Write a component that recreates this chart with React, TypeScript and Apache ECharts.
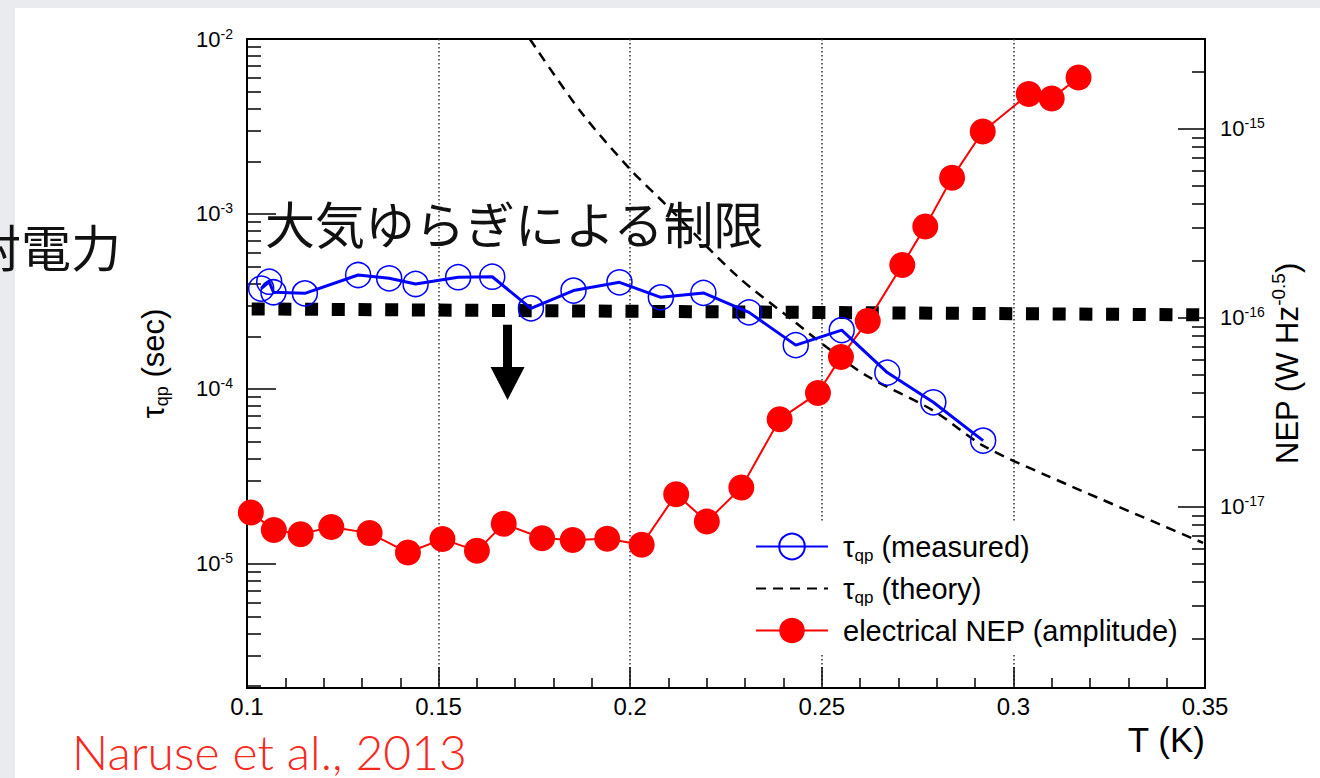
import React, { useEffect, useRef } from 'react';
import * as echarts from 'echarts';

// ---- data ----
// tau_qp measured (left axis, seconds)
const tauT = [0.1037, 0.1058, 0.1069, 0.1151, 0.129, 0.1371, 0.144, 0.1551, 0.164, 0.1741, 0.1852, 0.1972, 0.208, 0.2191, 0.231, 0.2432, 0.2552, 0.2671, 0.2791, 0.2921];
const tauMeasured = [3.75e-4, 4.1e-4, 3.57e-4, 3.52e-4, 4.48e-4, 4.29e-4, 3.98e-4, 4.35e-4, 4.38e-4, 2.89e-4, 3.65e-4, 4.07e-4, 3.34e-4, 3.54e-4, 2.74e-4, 1.78e-4, 2.17e-4, 1.24e-4, 8.39e-5, 5.07e-5];

// tau_qp theory (left axis, seconds)
const theoryT = [0.1738, 0.1869, 0.1999, 0.2095, 0.2278, 0.2426, 0.2513, 0.2617, 0.2791, 0.2921, 0.3087, 0.3495];
const tauTheory = [1.0e-2, 3.89e-3, 1.81e-3, 1.12e-3, 4.44e-4, 2.45e-4, 1.73e-4, 1.19e-4, 7.52e-5, 4.74e-5, 3.2e-5, 1.32e-5];

// electrical NEP (right axis, W Hz^-0.5)
const nepT = [0.101, 0.107, 0.114, 0.122, 0.132, 0.142, 0.151, 0.16, 0.167, 0.177, 0.185, 0.194, 0.203, 0.212, 0.22, 0.229, 0.239, 0.249, 0.255, 0.262, 0.271, 0.277, 0.284, 0.292, 0.304, 0.31, 0.317];
const nepValues = [9.33e-18, 7.55e-18, 7.17e-18, 7.82e-18, 7.26e-18, 5.73e-18, 6.75e-18, 5.85e-18, 8.13e-18, 6.83e-18, 6.68e-18, 6.77e-18, 6.3e-18, 1.167e-17, 8.36e-18, 1.264e-17, 2.91e-17, 4.0e-17, 6.2e-17, 9.64e-17, 1.905e-16, 3.04e-16, 5.52e-16, 9.68e-16, 1.53e-15, 1.45e-15, 1.87e-15];

// atmospheric-fluctuation NEP limit (right axis)
const limitT = [0.1, 0.35];
const limitNEP = [1.116e-16, 1.037e-16];

// arrow below the limit line
const arrowT = 0.168;
const arrowFrom = 9.2e-17;
const arrowTo = 4.5e-17;

// axes
const xTicks = [0.1, 0.15, 0.2, 0.25, 0.3, 0.35];
const leftMajor = [1e-5, 1e-4, 1e-3, 1e-2];
const leftDecades = [1e-6, 1e-5, 1e-4, 1e-3];
const rightMajor = [1e-17, 1e-16, 1e-15];
const rightDecades = [1e-18, 1e-17, 1e-16, 1e-15];
const minorMultipliers = [2, 3, 4, 5, 6, 7, 8, 9];
const L_MIN = 1.954e-6;
const L_MAX = 1.0001e-2;
const R_MIN = 1.1e-18;
const R_MAX = 2.99e-15;

const leftMinor = leftDecades.flatMap((d) => minorMultipliers.map((k) => k * d)).filter((v) => v > L_MIN && v < L_MAX);
const rightMinor = rightDecades.flatMap((d) => minorMultipliers.map((k) => k * d)).filter((v) => v > R_MIN && v < R_MAX);

const FONT = "'Liberation Sans', Arial, sans-serif";

export default function App() {
  const ref = useRef<HTMLDivElement>(null);

  useEffect(() => {
    if (!ref.current) return;
    const chart = echarts.init(ref.current, null, { renderer: 'svg' });

    const supFmt = (v: number) => `{b|10}{e|${Math.round(Math.log10(v))}}`;
    const supRich = {
      b: { fontSize: 22, lineHeight: 25, fontFamily: FONT, color: '#000' },
      e: { fontSize: 14, lineHeight: 13, verticalAlign: 'top', fontFamily: FONT, color: '#000' },
    };
    const tickLine = { color: '#000', width: 1.5 };

    const baseLog = (min: number, max: number, position: 'left' | 'right') => ({
      type: 'log',
      logBase: 10,
      min,
      max,
      position,
      splitLine: { show: false },
      minorTick: { show: false },
      minorSplitLine: { show: false },
      nameMoveOverlap: false,
    });

    const option: any = {
      animation: false,
      backgroundColor: '#e9ebee',
      textStyle: { fontFamily: FONT },
      grid: {
        left: 247,
        right: 115,
        top: 39,
        bottom: 90,
        show: true,
        borderColor: '#000',
        borderWidth: 2,
        backgroundColor: '#fff',
        containLabel: false,
        outerBoundsMode: 'none',
      },
      graphic: [
        { type: 'rect', shape: { x: 15, y: 8, width: 1305, height: 770 }, style: { fill: '#ffffff' }, z: -100, silent: true },
        {
          type: 'text',
          x: 265,
          y: 222,
          z: 50,
          silent: true,
          style: { text: '大気ゆらぎによる制限', fontSize: 50, fontFamily: "'Noto Sans CJK JP'", fill: '#111', textVerticalAlign: 'middle', verticalAlign: 'middle' },
        },
        {
          type: 'text',
          x: -29,
          y: 245,
          z: 50,
          silent: true,
          style: { text: '射電力', fontSize: 50, fontFamily: "'Noto Sans CJK JP'", fill: '#111', textVerticalAlign: 'middle', verticalAlign: 'middle' },
        },
        {
          type: 'text',
          x: 72,
          y: 751,
          z: 50,
          silent: true,
          style: { text: 'Naruse et al., 2013', fontSize: 48, fontWeight: 300, fontFamily: 'Lato', fill: '#f7291f', textVerticalAlign: 'middle', verticalAlign: 'middle' },
        },
      ],
      legend: {
        show: true,
        orient: 'vertical',
        left: 745,
        top: 522,
        padding: [10, 12, 10, 10],
        backgroundColor: '#fff',
        itemWidth: 72,
        itemHeight: 32,
        itemGap: 10,
        selectedMode: false,
        z: 10,
        data: [
          { name: 'τqp (measured)' },
          { name: 'τqp (theory)', itemStyle: { color: 'rgba(0,0,0,0)', borderColor: 'rgba(0,0,0,0)', borderWidth: 0 } },
          { name: 'electrical NEP (amplitude)' },
        ],
        formatter: (n: string) => (n.startsWith('τqp') ? `{f|τ}{s|qp}{t|${n.slice(3)}}` : `{f|${n}}`),
        textStyle: {
          color: '#000',
          rich: {
            f: { fontSize: 29, lineHeight: 35, fontFamily: FONT, color: '#000', padding: [0, 0, 0, 10] },
            t: { fontSize: 29, lineHeight: 35, fontFamily: FONT, color: '#000' },
            s: { fontSize: 17, lineHeight: 14, verticalAlign: 'bottom', fontFamily: FONT, color: '#000' },
          },
        },
      },
      xAxis: {
        type: 'value',
        min: 0.1,
        max: 0.35,
        interval: 0.05,
        position: 'bottom',
        axisLine: { show: true, onZero: false, lineStyle: { color: '#000', width: 2 } },
        axisTick: { show: true, inside: true, length: 21, lineStyle: tickLine },
        minorTick: { show: true, splitNumber: 5, length: 10, lineStyle: tickLine },
        axisLabel: {
          show: true,
          margin: 6,
          fontSize: 24,
          color: '#000',
          fontFamily: FONT,
          customValues: xTicks,
          formatter: (v: number) => String(+v.toFixed(2)),
        },
        splitLine: { show: true, lineStyle: { color: '#333', width: 1.5, type: [1.5, 2.5] } },
        minorSplitLine: { show: false },
        name: 'T (K)',
        nameLocation: 'end',
        nameGap: 0,
        nameMoveOverlap: false,
        nameTextStyle: { fontSize: 35, color: '#000', fontFamily: FONT, align: 'right', verticalAlign: 'top', padding: [34, 0, 0, 0] },
      },
      yAxis: [
        {
          ...baseLog(L_MIN, L_MAX, 'left'),
          axisLine: { show: true, lineStyle: { color: '#000', width: 2 } },
          axisTick: { show: true, inside: true, length: 29, customValues: leftMajor, lineStyle: tickLine },
          axisLabel: { show: true, customValues: leftMajor, formatter: supFmt, margin: 14, rich: supRich },
          name: '{t|τ}{s|qp}{t| (sec)}',
          nameLocation: 'middle',
          nameGap: 76,
          nameTextStyle: {
            rich: {
              t: { fontSize: 31, lineHeight: 36, fontFamily: FONT, color: '#000' },
              s: { fontSize: 18, lineHeight: 12, verticalAlign: 'bottom', fontFamily: FONT, color: '#000' },
            },
          },
        },
        {
          ...baseLog(R_MIN, R_MAX, 'right'),
          axisLine: { show: true, lineStyle: { color: '#000', width: 2 } },
          axisTick: { show: true, inside: true, length: 27, customValues: rightMajor, lineStyle: tickLine },
          axisLabel: { show: true, customValues: rightMajor, formatter: supFmt, margin: 15, rich: supRich },
          name: '{t|NEP (W Hz}{e|-0.5}{t|)}',
          nameLocation: 'middle',
          nameGap: 64,
          nameTextStyle: {
            rich: {
              t: { fontSize: 31, lineHeight: 36, fontFamily: FONT, color: '#000' },
              e: { fontSize: 19, lineHeight: 16, verticalAlign: 'top', fontFamily: FONT, color: '#000' },
            },
          },
        },
        {
          ...baseLog(L_MIN, L_MAX, 'left'),
          axisLine: { show: false },
          axisTick: { show: true, inside: true, length: 14, customValues: leftMinor, lineStyle: tickLine },
          axisLabel: { show: false },
        },
        {
          ...baseLog(R_MIN, R_MAX, 'right'),
          axisLine: { show: false },
          axisTick: { show: true, inside: true, length: 13, customValues: rightMinor, lineStyle: tickLine },
          axisLabel: { show: false },
        },
      ],
      series: [
        {
          name: 'limit',
          type: 'line',
          xAxisIndex: 0,
          yAxisIndex: 1,
          data: limitT.map((t, i) => [t, limitNEP[i]]),
          symbol: 'none',
          silent: true,
          lineStyle: { color: '#000', width: 13, type: [13, 13.7], dashOffset: 21.7, cap: 'butt' },
          itemStyle: { color: '#000' },
          markLine: {
            silent: true,
            animation: false,
            symbol: ['none', 'triangle'],
            symbolSize: [34, 33],
            label: { show: false },
            emphasis: { disabled: true },
            lineStyle: { color: '#000', width: 9, type: 'solid', cap: 'butt' },
            data: [[{ coord: [arrowT, arrowFrom] }, { coord: [arrowT, arrowTo] }]],
          },
        },
        {
          name: 'τqp (theory)',
          type: 'line',
          xAxisIndex: 0,
          yAxisIndex: 0,
          z: 11,
          data: theoryT.map((t, i) => [t, tauTheory[i]]),
          symbol: 'none',
          smooth: 0.3,
          silent: true,
          lineStyle: { color: '#000', width: 2.5, type: [10, 7] },
          itemStyle: { color: '#000' },
        },
        {
          name: 'electrical NEP (amplitude)',
          type: 'line',
          xAxisIndex: 0,
          yAxisIndex: 1,
          z: 12,
          data: nepT.map((t, i) => [t, nepValues[i]]),
          symbol: 'circle',
          symbolSize: 26,
          silent: true,
          itemStyle: { color: '#ff0000' },
          lineStyle: { color: '#ff0000', width: 2 },
        },
        {
          name: 'τqp (measured)',
          type: 'line',
          xAxisIndex: 0,
          yAxisIndex: 0,
          z: 13,
          data: tauT.map((t, i) => [t, tauMeasured[i]]),
          symbol: 'circle',
          symbolSize: 25,
          silent: true,
          itemStyle: { color: 'rgba(0,0,0,0)', borderColor: '#0000ff', borderWidth: 1.5 },
          lineStyle: { color: '#0000ff', width: 3 },
        },
      ],
    };

    chart.setOption(option);
    return () => chart.dispose();
  }, []);

  return <div ref={ref} style={{ position: 'fixed', left: 0, top: 0, width: 1320, height: 778 }} />;
}
